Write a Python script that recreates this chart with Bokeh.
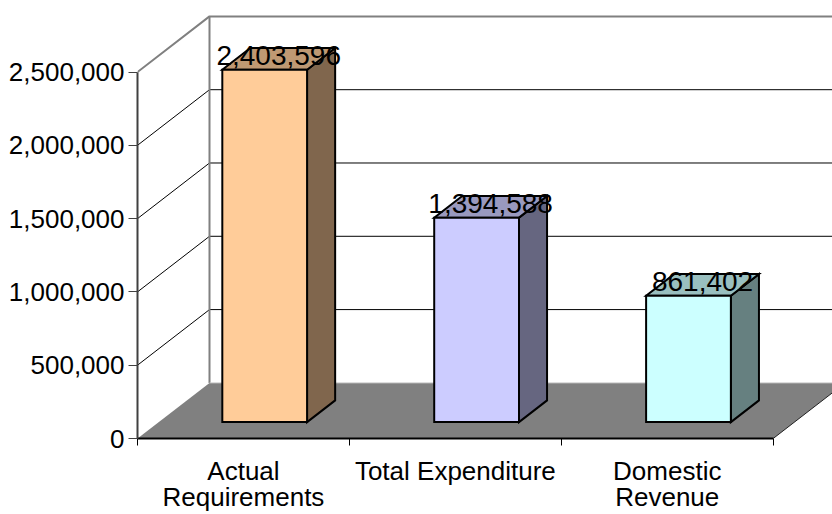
from bokeh.plotting import figure
from bokeh.models import Range1d, FixedTicker, NumeralTickFormatter
from bokeh.embed import file_html
from bokeh.resources import INLINE
from bokeh.core.properties import value

# ---- data ----
categories = ["Actual\nRequirements", "Total Expenditure", "Domestic\nRevenue"]
values = [2403596, 1394588, 861402]
y_ticks = [0, 500000, 1000000, 1500000, 2000000, 2500000]
front_colors = ["#FFCC99", "#CCCCFF", "#CCFFFF"]
top_colors = ["#BF9973", "#9999BF", "#99BFBF"]
side_colors = ["#80664D", "#666680", "#668080"]

# ---- layout / projection constants ----
W, H = 832, 514
LEFT, BOTTOM = 137, 73
FW, FH = W - LEFT, H - BOTTOM
Y_MAX = y_ticks[-1]
PX_PER_VAL = 369.0 / Y_MAX
PX_PER_CAT = 211.9
x_end = FW / PX_PER_CAT
y_end = FH / PX_PER_VAL
DEPTH_X, DEPTH_Y = 72.0, 56.0        # oblique depth of the floor, in px
D0, D1 = 0.295, 0.685                # bar front / back depth fractions
HALF_W = 0.2                         # half bar width (category units)
LABEL_LIFT_PX = 3.0
N = len(categories)


def proj(x, y, d):
    return x + d * DEPTH_X / PX_PER_CAT, y + d * DEPTH_Y / PX_PER_VAL


p = figure(width=W, height=H, x_range=Range1d(0, x_end), y_range=Range1d(0, y_end),
           output_backend="svg", toolbar_location=None,
           min_border_left=LEFT, min_border_right=0, min_border_top=0,
           min_border_bottom=BOTTOM)
p.outline_line_color = None
p.xgrid.visible = False
p.ygrid.visible = False
p.background_fill_color = "white"
p.border_fill_color = "white"

# ---- walls & gridlines ----
grid_xs, grid_ys = [], []
for t in y_ticks[1:-1]:
    a = proj(0, t, 0); b = proj(0, t, 1); c = proj(N, t, 1)
    grid_xs.append([a[0], b[0], c[0]]); grid_ys.append([a[1], b[1], c[1]])
p.multi_line(grid_xs, grid_ys, line_color="black", line_width=1)

top = Y_MAX
a = proj(0, top, 0); b = proj(0, top, 1); c = proj(N, top, 1); d = proj(0, 0, 1)
p.line([a[0], b[0], c[0]], [a[1], b[1], c[1]], line_color="#808080", line_width=2)
p.line([d[0], b[0]], [d[1], b[1]], line_color="#808080", line_width=2)

# ---- floor ----
f = [proj(0, 0, 0), proj(N, 0, 0), proj(N, 0, 1), proj(0, 0, 1)]
p.patch([q[0] for q in f], [q[1] for q in f], fill_color="#808080", line_color=None)
p.line([f[1][0], f[2][0]], [f[1][1], f[2][1]], line_color="#202020", line_width=1)
p.line([f[3][0], f[2][0]], [f[3][1], f[2][1]], line_color="#C8C8C8", line_width=1)

# ---- bars ----
for i, v in enumerate(values):
    cx = i + 0.5
    xl, xr = cx - HALF_W, cx + HALF_W
    side = [proj(xr, 0, D0), proj(xr, 0, D1), proj(xr, v, D1), proj(xr, v, D0)]
    topf = [proj(xl, v, D0), proj(xr, v, D0), proj(xr, v, D1), proj(xl, v, D1)]
    front = [proj(xl, 0, D0), proj(xr, 0, D0), proj(xr, v, D0), proj(xl, v, D0)]
    for poly, col in ((side, side_colors[i]), (topf, top_colors[i]), (front, front_colors[i])):
        p.patch([q[0] for q in poly], [q[1] for q in poly], fill_color=col,
                line_color="black", line_width=2, line_join="miter")

# ---- data labels ----
dm = (D0 + D1) / 2
lx = [proj(i + 0.5, v, dm)[0] for i, v in enumerate(values)]
ly = [proj(i + 0.5, v, dm)[1] + LABEL_LIFT_PX / PX_PER_VAL for i, v in enumerate(values)]
p.text(x=lx, y=ly, text=[f"{v:,}" for v in values], text_align="center",
       text_baseline="alphabetic", text_font=value("Liberation Sans"),
       text_font_size="28px", text_color="black")

# ---- y axis ----
ya = p.yaxis[0]
ya.ticker = FixedTicker(ticks=y_ticks)
ya.formatter = NumeralTickFormatter(format="0,0")
ya.bounds = (0, Y_MAX)
ya.axis_line_color = "#404040"
ya.axis_line_width = 2
ya.major_tick_line_color = "#404040"
ya.major_tick_line_width = 1
ya.major_tick_out = 9
ya.major_tick_in = 0
ya.minor_tick_out = 0
ya.minor_tick_in = 0
ya.major_label_standoff = 4
ya.major_label_text_font = "Liberation Sans"
ya.major_label_text_font_size = "26px"
ya.major_label_text_color = "black"

# ---- x axis ----
xa = p.xaxis[0]
centers = [i + 0.5 for i in range(N)]
xa.ticker = FixedTicker(ticks=centers, minor_ticks=list(range(N + 1)))
xa.major_label_overrides = {c: lab for c, lab in zip(centers, categories)}
xa.bounds = (0, N)
xa.axis_line_color = "black"
xa.axis_line_width = 2
xa.major_tick_out = 0
xa.major_tick_in = 0
xa.minor_tick_out = 7
xa.minor_tick_in = 0
xa.minor_tick_line_color = "black"
xa.major_label_standoff = 10
xa.major_label_text_font = "Liberation Sans"
xa.major_label_text_font_size = "26px"
xa.major_label_text_color = "black"
xa.major_label_text_line_height = 0.88

open("out.html", "w").write(file_html(p, INLINE))
